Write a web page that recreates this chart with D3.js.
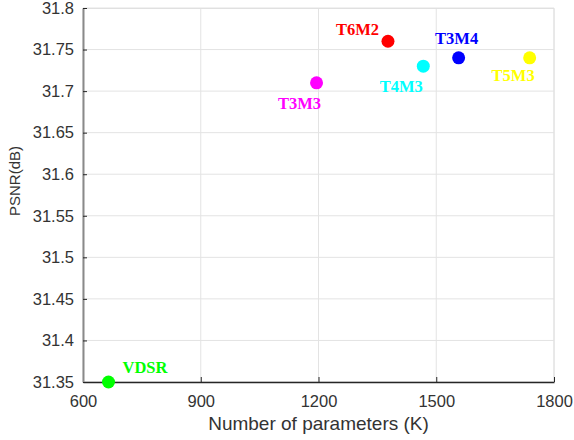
<!DOCTYPE html>
<html>
<head>
<meta charset="utf-8">
<script src="https://cdn.jsdelivr.net/npm/d3@7"></script>
<style>
  body { margin: 0; background: #fff; }
  svg { display: block; }
</style>
</head>
<body>
<script>
// 数据
const models = ['VDSR', 'T3M3', 'T6M2', 'T4M3', 'T3M4', 'T5M3']
const params = [665, 1195, 1377, 1467, 1557, 1738]
const psnr = [31.35, 31.71, 31.76, 31.73, 31.74, 31.74]
const colors = ['#00ff00', '#ff00ff', '#ff0000', '#00ffff', '#0000ff', '#ffff00']
const xTicks = [600, 900, 1200, 1500, 1800]
const yTicks = [31.35, 31.4, 31.45, 31.5, 31.55, 31.6, 31.65, 31.7, 31.75, 31.8]

// 标签相对点的偏移
const labelPos = {
  VDSR: { dx: 14, dy: -9, anchor: 'start' },
  T3M3: { dx: -17, dy: 26, anchor: 'middle' },
  T6M2: { dx: -9, dy: -6, anchor: 'end' },
  T4M3: { dx: -22, dy: 26, anchor: 'middle' },
  T3M4: { dx: -2, dy: -14, anchor: 'middle' },
  T5M3: { dx: 5, dy: 23, anchor: 'end' }
}

const W = 574, H = 440
const margin = { top: 8, right: 20, bottom: 58, left: 83 }
const width = W - margin.left - margin.right
const height = H - margin.top - margin.bottom
const sans = '"Liberation Sans", Arial, sans-serif'

const svg = d3.select('body').append('svg')
  .attr('width', W)
  .attr('height', H)

const g = svg.append('g')
  .attr('transform', `translate(${margin.left},${margin.top})`)

const x = d3.scaleLinear().domain([600, 1800]).range([0, width])
const y = d3.scaleLinear().domain([31.35, 31.8]).range([height, 0])

// 网格
g.append('g')
  .selectAll('line')
  .data(xTicks)
  .join('line')
  .attr('x1', d => x(d)).attr('x2', d => x(d))
  .attr('y1', 0).attr('y2', height)
  .attr('stroke', '#e3e3e3')
g.append('g')
  .selectAll('line')
  .data(yTicks)
  .join('line')
  .attr('x1', 0).attr('x2', width)
  .attr('y1', d => y(d)).attr('y2', d => y(d))
  .attr('stroke', '#e3e3e3')

// 外框(上、右)
g.append('path')
  .attr('d', `M0,0.5H${width}V${height}`)
  .attr('fill', 'none')
  .attr('stroke', '#e0e0e0')

// x轴
const xAxis = g.append('g')
  .attr('transform', `translate(0,${height})`)
  .call(d3.axisBottom(x).tickValues(xTicks).tickFormat(d3.format('d'))
    .tickSizeInner(-5).tickSizeOuter(0).tickPadding(13))
xAxis.select('.domain').attr('stroke', '#262626').attr('stroke-width', 1.5)
xAxis.selectAll('.tick line').attr('stroke', '#262626')
xAxis.selectAll('text')
  .attr('fill', '#333')
  .style('font', `16.5px ${sans}`)

// y轴
const yAxis = g.append('g')
  .call(d3.axisLeft(y).tickValues(yTicks).tickFormat(d => String(+d.toFixed(2)))
    .tickSizeInner(-4).tickSizeOuter(0).tickPadding(9))
yAxis.select('.domain').attr('stroke', '#8a8a8a').attr('stroke-width', 2)
yAxis.selectAll('.tick line').attr('stroke', '#262626')
yAxis.selectAll('text')
  .attr('fill', '#333')
  .style('font', `16.5px ${sans}`)

// 轴标题
svg.append('text')
  .attr('x', margin.left + width / 2)
  .attr('y', 430)
  .attr('text-anchor', 'middle')
  .attr('fill', '#333')
  .style('font', `19px ${sans}`)
  .text('Number of parameters (K)')

svg.append('text')
  .attr('transform', 'translate(20,181) rotate(-90)')
  .attr('text-anchor', 'middle')
  .attr('fill', '#333')
  .style('font', `15px ${sans}`)
  .text('PSNR(dB)')

// 散点
const pts = models.map((m, i) => ({ name: m, x: params[i], y: psnr[i], c: colors[i] }))

g.append('g')
  .selectAll('circle')
  .data(pts)
  .join('circle')
  .attr('cx', d => x(d.x))
  .attr('cy', d => y(d.y))
  .attr('r', 6.5)
  .attr('fill', d => d.c)

g.append('g')
  .selectAll('text')
  .data(pts)
  .join('text')
  .attr('x', d => x(d.x) + labelPos[d.name].dx)
  .attr('y', d => y(d.y) + labelPos[d.name].dy)
  .attr('text-anchor', d => labelPos[d.name].anchor)
  .attr('fill', d => d.c)
  .style('font', 'bold 16.5px "Liberation Serif", "Times New Roman", serif')
  .text(d => d.name)
</script>
</body>
</html>
